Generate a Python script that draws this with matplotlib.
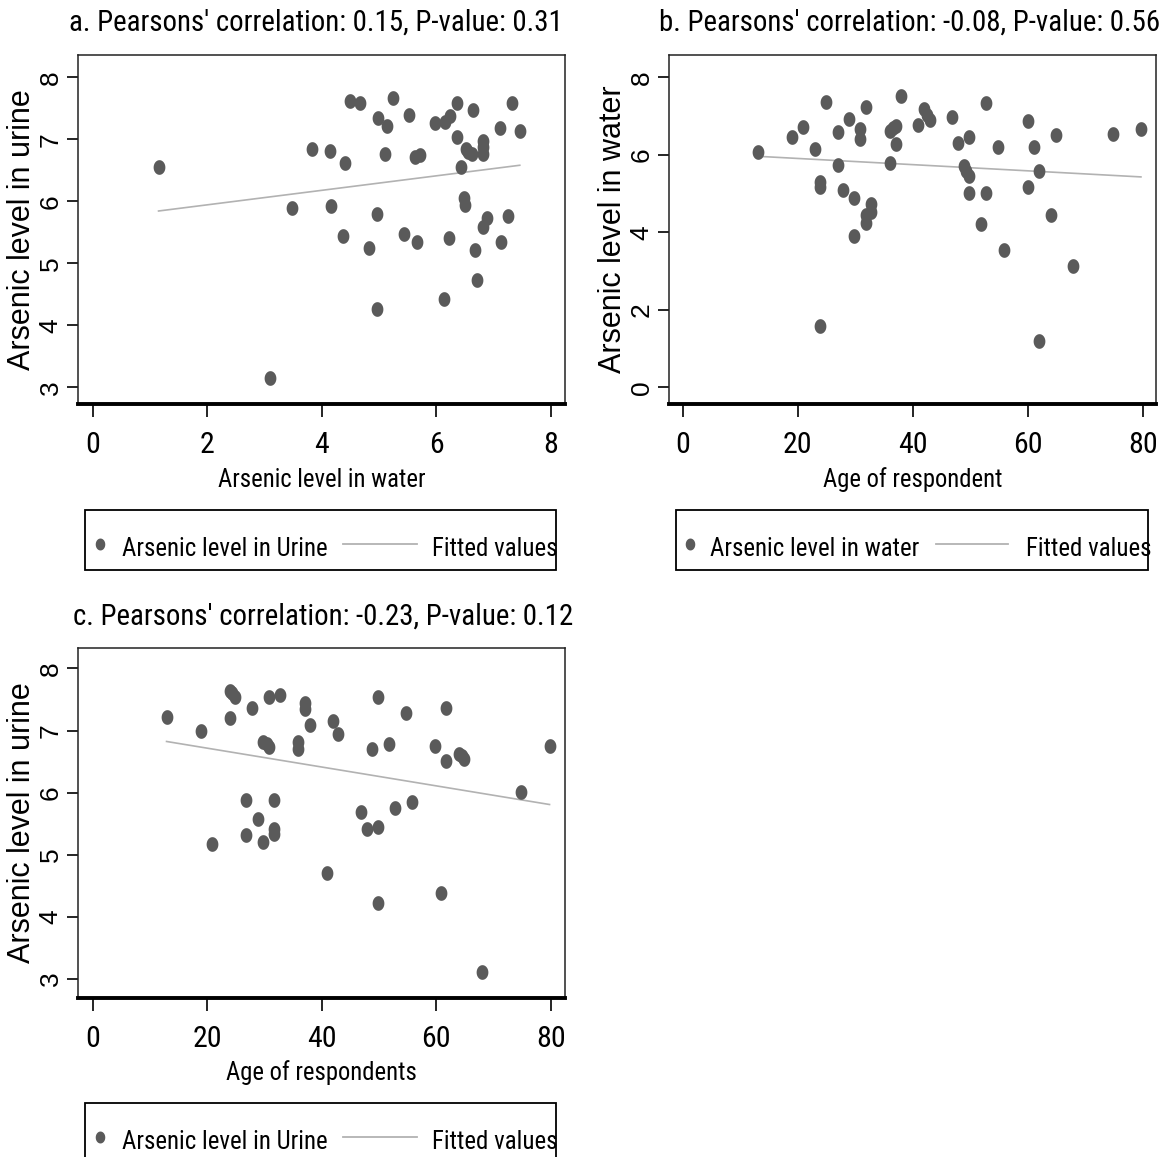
import numpy as np
import matplotlib
matplotlib.use("Agg")
import matplotlib.pyplot as plt
from matplotlib.path import Path
from matplotlib.markers import MarkerStyle
from matplotlib.lines import Line2D
from matplotlib.patches import Rectangle
from matplotlib import font_manager
from matplotlib.font_manager import FontProperties

# ---------------- data ----------------
water_a = [1.15, 3.10, 3.48, 3.83, 4.15, 4.16, 4.41, 4.37, 4.49, 4.67, 4.82, 4.96, 4.96, 4.99,
           5.14, 5.11, 5.25, 5.43, 5.53, 5.66, 5.63, 5.72, 5.98, 6.13, 6.15, 6.22, 6.24, 6.36,
           6.37, 6.43, 6.49, 6.51, 6.52, 6.56, 6.62, 6.65, 6.67, 6.72, 6.81, 6.81, 6.82, 6.81,
           6.89, 7.12, 7.14, 7.26, 7.32, 7.46]
urine_a = [6.56, 3.15, 5.89, 6.84, 6.81, 5.92, 6.61, 5.44, 7.61, 7.58, 5.25, 5.80, 4.26, 7.35,
           7.22, 6.77, 7.67, 5.47, 7.39, 5.35, 6.72, 6.75, 7.27, 4.42, 7.28, 5.40, 7.37, 7.58,
           7.03, 6.56, 6.05, 5.94, 6.84, 6.80, 6.77, 7.47, 5.22, 4.73, 6.98, 6.87, 6.76, 5.59,
           5.73, 7.19, 5.34, 5.76, 7.58, 7.14]

age_b = [13.1, 19.0, 20.9, 22.9, 23.9, 23.9, 23.9, 24.9, 26.9, 26.9, 27.9, 28.9, 29.8, 29.8,
         30.8, 30.8, 31.8, 31.8, 31.9, 32.8, 32.8, 36.0, 36.0, 36.6, 37.0, 37.0, 38.0, 40.9,
         41.9, 42.4, 43.0, 46.9, 47.9, 48.9, 49.3, 49.8, 49.8, 49.8, 51.8, 52.8, 52.8, 54.8,
         55.8, 60.0, 60.0, 61.0, 61.9, 61.9, 64.0, 64.9, 67.9, 74.8, 79.7]
water_b = [6.06, 6.45, 6.71, 6.14, 5.31, 5.16, 1.57, 7.37, 6.60, 5.74, 5.08, 6.92, 4.88, 3.91,
           6.67, 6.40, 7.23, 4.25, 4.45, 4.73, 4.53, 5.78, 6.61, 6.68, 6.74, 6.28, 7.53, 6.77,
           7.17, 7.03, 6.90, 6.97, 6.30, 5.71, 5.59, 6.45, 5.45, 5.02, 4.22, 7.33, 5.02, 6.19,
           3.54, 6.86, 5.18, 6.19, 5.59, 1.20, 4.46, 6.51, 3.13, 6.55, 6.66]

age_c = [12.9, 18.9, 20.9, 23.9, 23.9, 24.4, 24.9, 26.8, 26.8, 27.8, 28.8, 29.7, 29.8, 30.4,
         30.8, 30.8, 31.7, 31.7, 31.7, 32.7, 35.8, 35.8, 37.0, 37.0, 38.0, 40.9, 41.9, 42.9,
         46.9, 47.9, 48.8, 49.9, 49.9, 49.9, 51.8, 52.8, 54.8, 55.8, 59.8, 60.8, 61.7, 61.7,
         63.9, 64.5, 64.9, 68.0, 74.8, 79.8]
urine_c = [7.22, 7.00, 5.18, 7.64, 7.20, 7.60, 7.54, 5.89, 5.32, 7.36, 5.58, 6.82, 5.21, 6.78,
           7.54, 6.74, 5.89, 5.42, 5.34, 7.57, 6.81, 6.70, 7.45, 7.35, 7.09, 4.70, 7.15, 6.94,
           5.69, 5.41, 6.71, 7.54, 5.44, 4.23, 6.78, 5.76, 7.29, 5.85, 6.75, 4.39, 7.36, 6.51,
           6.62, 6.59, 6.55, 3.12, 6.01, 6.75]

titles = ["a. Pearsons' correlation: 0.15, P-value: 0.31",
          "b. Pearsons' correlation: -0.08, P-value: 0.56",
          "c. Pearsons' correlation: -0.23, P-value: 0.12"]
xlabels = ["Arsenic level in water", "Age of respondent", "Age of respondents"]
ylabels = ["Arsenic level in urine", "Arsenic level in water", "Arsenic level in urine"]
legend_labels = ["Arsenic level in Urine", "Arsenic level in water", "Arsenic level in Urine"]
fit_label = "Fitted values"
xticks_a = [0, 2, 4, 6, 8]
yticks_a = [3, 4, 5, 6, 7, 8]
xticks_b = [0, 20, 40, 60, 80]
yticks_b = [0, 2, 4, 6, 8]
xticks_c = [0, 20, 40, 60, 80]
yticks_c = [3, 4, 5, 6, 7, 8]

# ---------------- style ----------------
W, H = 1173, 1157
REG = "Liberation Sans"
plt.rcParams["font.family"] = [REG, "DejaVu Sans"]

MK = "#5a5a5a"
FIT = "#b2b2b2"

fig = plt.figure(figsize=(W / 100, H / 100), dpi=100)
fig.patch.set_facecolor("white")
renderer = fig.canvas.get_renderer()

# ----- choose the narrowest-looking sans font available for horizontal text -----
BASES = {"Liberation Sans", "Arial", "Roboto", "Open Sans", "Noto Sans", "DejaVu Sans", "Lato", "Inter"}
cands = []
for f in font_manager.fontManager.ttflist:
    if f.style != "normal":
        continue
    w = f.weight if isinstance(f.weight, int) else {"normal": 400, "regular": 400, "book": 400}.get(str(f.weight).lower(), 0)
    if w != 400:
        continue
    base = f.name
    for tok in ["SemiCondensed", "ExtraCondensed", "Condensed", "Narrow"]:
        base = base.replace(tok, "")
    base = base.strip()
    if base in BASES and (f.name != base or f.name == REG):
        if f.fname.lower().endswith((".ttf", ".otf")):
            cands.append(f.fname)
cands = list(dict.fromkeys(cands))

TITLE_W = 492.0


def text_width(s, fp):
    tt = fig.text(0, 0, s, fontproperties=fp)
    w = tt.get_window_extent(renderer).width
    tt.remove()
    return w


best = None
for path in cands:
    try:
        fp = FontProperties(fname=path, size=22)
        w = text_width(titles[0], fp)
        need = 22 * TITLE_W / w
        score = abs(need - 22.2)
        if best is None or score < best[0]:
            best = (score, path, need)
    except Exception:
        pass

if best is None:
    NARROW_PATH = None
    title_size = 18.2
else:
    NARROW_PATH = best[1]
    title_size = best[2]


def nfp(size):
    if NARROW_PATH is None:
        return FontProperties(family=REG, size=size)
    return FontProperties(fname=NARROW_PATH, size=size)


def fit_size(s, target):
    return 20 * target / text_width(s, nfp(20))


xlabel_size = fit_size(xlabels[0], 207)
legend_size = fit_size(legend_labels[0], 205)
tick_size = min(21.5, 1.1 * title_size)

t = np.linspace(0, 2 * np.pi, 40)
ell = MarkerStyle(Path(np.column_stack([0.8 * np.cos(t), np.sin(t)]), closed=True))


def add_ax(l, t_, r, b):
    return fig.add_axes([l / W, 1 - b / H, (r - l) / W, (b - t_) / H])


def style_ax(ax, x, y, xt, yt, xlim, ylim, xlabel, ylabel, xlab_y):
    ax.scatter(x, y, s=112, marker=ell, color=MK, linewidths=0, zorder=3)
    k, c0 = np.polyfit(x, y, 1)
    xs = np.array([min(x), max(x)])
    ax.plot(xs, k * xs + c0, color=FIT, lw=1.2, zorder=2)
    ax.set_xlim(*xlim)
    ax.set_ylim(*ylim)
    ax.set_xticks(xt, [str(v) for v in xt], fontproperties=nfp(tick_size))
    ax.set_yticks(yt, [str(v) for v in yt], fontsize=19, fontfamily=REG,
                  rotation=90, va="center")
    ax.tick_params(axis="x", length=9, width=1.2, pad=10.5, direction="out")
    ax.tick_params(axis="y", length=8, width=1.2, pad=3, direction="out")
    for s in ["top", "right", "left"]:
        ax.spines[s].set_linewidth(1.1)
        ax.spines[s].set_color("#222222")
    ax.spines["bottom"].set_linewidth(2.8)
    ax.spines["bottom"].set_color("black")
    ax.set_xlabel(xlabel, fontproperties=nfp(xlabel_size), va="baseline")
    ax.xaxis.set_label_coords(0.5, xlab_y)
    ax.set_ylabel(ylabel, fontsize=22, fontfamily=REG)
    ax.yaxis.set_label_coords(-0.084, 0.5)


def legend_px(box, mx, t1x, lx0, lx1, t2x, label, yc, ybase):
    l, t_, r, b = box
    fig.add_artist(Rectangle((l / W, 1 - b / H), (r - l) / W, (b - t_) / H,
                             transform=fig.transFigure, fill=False, ec="black", lw=1.3))
    fig.add_artist(Line2D([mx / W], [1 - yc / H], transform=fig.transFigure,
                          marker=ell, ms=8.6, color=MK, mew=0, ls="none"))
    fig.text(t1x / W, 1 - ybase / H, label, fontproperties=nfp(legend_size),
             ha="left", va="baseline")
    fig.add_artist(Line2D([lx0 / W, lx1 / W], [1 - yc / H, 1 - yc / H],
                          transform=fig.transFigure, color=FIT, lw=1.3))
    fig.text(t2x / W, 1 - ybase / H, fit_label, fontproperties=nfp(legend_size),
             ha="left", va="baseline")


# panel a
ax_a = add_ax(78, 55, 565, 404)
style_ax(ax_a, water_a, urine_a, xticks_a, yticks_a, (-0.257, 8.25), (2.73, 8.36),
         xlabels[0], ylabels[0], -(487 - 404) / 349)
fig.text(316 / W, 1 - 31 / H, titles[0], fontproperties=nfp(title_size),
         ha="center", va="baseline")
legend_px((85, 510, 556, 570), 100, 122, 343, 417, 432, legend_labels[0], 544, 556)

# panel b
ax_b = add_ax(669, 55, 1156, 404)
style_ax(ax_b, age_b, water_b, xticks_b, yticks_b, (-2.44, 82.32), (-0.43, 8.576),
         xlabels[1], ylabels[1], -(487 - 404) / 349)
fig.text(910 / W, 1 - 31 / H, titles[1], fontproperties=nfp(title_size),
         ha="center", va="baseline")
legend_px((676, 510, 1148, 570), 690, 710, 936, 1008, 1026, legend_labels[1], 544, 556)

# panel c
ax_c = add_ax(78, 648, 565, 998)
style_ax(ax_c, age_c, urine_c, xticks_c, yticks_c, (-2.57, 82.5), (2.694, 8.33),
         xlabels[2], ylabels[2], -(1080 - 998) / 350)
fig.text(323 / W, 1 - 625 / H, titles[2], fontproperties=nfp(title_size),
         ha="center", va="baseline")
legend_px((85, 1103, 556, 1165), 100, 122, 343, 417, 432, legend_labels[2], 1137, 1149)

fig.savefig("out.png", dpi=100, facecolor="white")
